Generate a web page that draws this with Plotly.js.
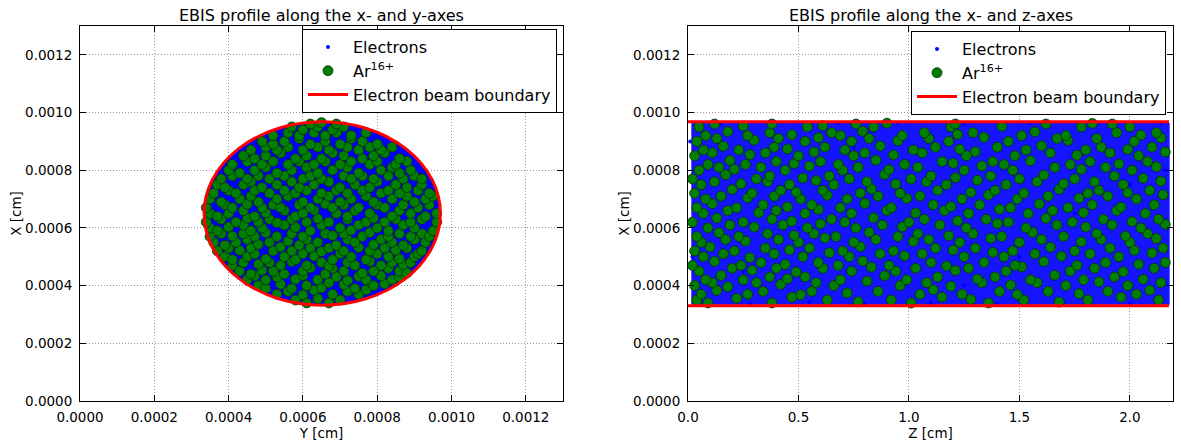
<!DOCTYPE html>
<html>
<head>
<meta charset="utf-8">
<script src="https://cdn.plot.ly/plotly-3.0.1.min.js"></script>
<style>html,body{margin:0;padding:0;background:#fff;}#chart{width:1181px;height:441px;}</style>
</head>
<body>
<div id="chart"></div>
<script>
// ---------- DATA ----------
// transverse units: 1e-5 cm ; longitudinal (Z) units: 0.01 cm
const UNIT_T = 1e-5;
const UNIT_Z = 0.01;

const panelTitles = ["EBIS profile along the x- and y-axes", "EBIS profile along the x- and z-axes"];
const seriesNames = ["Electrons", "Ar<sup>16+</sup>", "Electron beam boundary"];

// beam boundary (cm)
const beamCenterY = 0.000652;
const beamCenterX = 0.00065;
const beamRadius = 0.000318;
const beamXmin = 0.00033;
const beamXmax = 0.000968;
const beamZ = [0, 2.177];
// electron cloud extent along z (cm)
const electronZ = [0.015, 2.18];

// electrons, x-y view: [Y, X] in 1e-5 cm
const electronsXY = [[40,60],[45,70],[50,55],[55,80],[60,40],[65,65],[70,50],[75,85],[80,60],[85,72],[90,55],[47,45],[52,88],[58,66],[62,78],[68,38],[72,93],[78,47],[83,83],[88,64],[93,68],[36,64],[95,62],[64,96],[66,34],[43,52],[57,90],[74,40],[86,45],[49,76]];

// electrons, x-z view: [Z (0.01 cm), X (1e-5 cm)]
const electronsXZ = [[3,34],[15,96],[28,33.6],[40,96.4],[55,34.2],[68,96.2],[80,33.8],[95,96.5],[110,34],[125,96],[140,33.7],[155,96.3],[170,34.1],[185,96],[200,33.9],[214,96.2],[217,60],[2,50],[216,80],[1,90],[50,60],[100,70],[150,50],[200,75],[25,45],[75,88],[125,40],[175,65]];

// Ar16+ ions, x-y view: [Y, X] in 1e-5 cm
const ionsXY = [
[58,35],[61,34],[64,35.5],[67,34],[70,35],
[53,37],[56,38],[60,36.8],[63,38.4],[68,37],[72,38],[75,36.9],[77,38.5],
[48,40],[50,39],[54,40.5],[57,39],[61,40],[65,39.2],[67,41],[71,40.3],[74,39],[79,40],[82,40.6],
[45,42],[47,43.4],[50,42],[53,43],[58,42.2],[60,43.5],[64,42],[69,43],[72,41.8],[75,43.2],[77,42],[81,43.4],[84,42],[86,43],
[43,45],[46,44],[49,45.3],[52,45],[55,44],[60,45],[62,46.2],[66,44],[68,46],[71,45],[76,44.3],[79,45],[83,46],[86,45],[88,44.4],
[41,47],[44,48],[48,47.4],[51,48],[54,47],[57,48.3],[61,47],[65,48],[67,46.8],[72,48],[74,47],[78,48.4],[81,47],[84,48],[87,47.2],[89,48],
[39,50],[41,49],[45,50],[47,51],[50,49.2],[55,50],[58,49],[60,51],[63,50.2],[68,49],[70,51],[73,50],[77,49],[80,51],[83,50],[86,49.3],[90,50],[91,51],
[37,52],[40,53],[43,52.2],[46,53],[52,52],[54,53.4],[57,52],[62,53],[65,51.8],[67,53],[71,52],[75,53.2],[78,52],[82,53],[85,52.3],[88,53],[92,52],
[36,55],[39,54],[42,55],[45,56],[48,54.3],[51,55],[56,55.4],[59,54],[61,56],[64,55],[69,54],[72,56],[74,55],[79,54.2],[81,56],[84,55],[87,54],[90,56],[93,55],
[35,57],[38,58],[41,57.2],[44,58],[47,57],[50,58.3],[53,57],[57,58],[60,57],[66,58],[68,57.3],[71,58],[76,57],[78,58.4],[83,57],[86,58],[89,57],[92,58],[94,57],
[35,60],[37,59],[40,60.3],[44,61],[46,59],[49,60],[55,61],[58,60.2],[62,59],[65,61],[70,60],[73,59.2],[75,61],[80,60],[83,59],[87,61],[90,60],[95,59],
[34,62],[38,63],[42,62],[45,63.3],[48,62],[51,63],[53,61.8],[57,63],[61,62],[64,63.2],[67,62],[72,63],[77,62],[79,63.4],[82,62],[85,63],[89,62],[92,63],[96,62],
[35,65],[37,64],[40,65],[44,66],[47,64],[50,65.2],[55,66],[58,64],[60,65],[63,66.2],[69,65],[72,64],[74,66],[78,65],[84,64],[86,66],[89,65],[93,64],[96,65],
[34,67],[39,68],[41,67],[45,68.2],[49,67],[52,68],[54,67],[59,68],[62,67],[66,68.3],[68,67],[71,68],[75,67],[80,68],[82,67],[87,68],[91,67],[94,68],
[35,70],[38,69],[43,70],[46,71],[48,69],[53,70],[56,71],[60,69],[64,70],[67,71],[70,69],[73,70],[77,71],[79,69],[84,70],[88,71],[90,69],[93,70],[95,71],
[36,72],[40,73],[42,72],[47,73],[51,72],[55,73],[58,72],[61,73],[65,72],[69,73],[72,72],[76,73],[81,72],[83,73],[86,72],[91,73],[94,72],
[37,75],[39,74],[44,75],[46,76],[49,74],[53,75],[57,76],[59,74],[63,75],[67,76],[70,74],[74,75],[78,74],[80,76],[85,75],[88,74],[92,75],
[38,77],[41,78],[45,77],[48,78],[51,77],[55,78],[60,77],[62,78],[65,77],[71,78],[73,77],[76,78],[79,77],[83,78],[87,77],[90,78],[92,77],
[40,80],[43,79],[47,80],[50,81],[53,79],[57,80],[61,81],[64,79],[68,80],[72,81],[75,79],[81,80],[84,81],[86,79],[89,80],
[41,82],[45,83],[49,82],[52,83],[56,82],[59,83],[63,82],[66,83],[70,82],[73,83],[78,82],[80,83],[85,82],[88,83],
[44,85],[47,84],[50,85],[54,86],[58,84],[61,85],[65,84],[68,86],[71,85],[76,84],[79,85],[82,86],[86,84],
[46,87],[50,88],[53,87],[56,88],[60,87],[64,88],[67,87],[72,88],[75,87],[78,88],[81,87],[84,88],
[49,90],[52,89],[55,90],[59,91],[62,89],[66,90],[70,89],[73,91],[76,90],[80,89],
[52,92],[56,93],[59,92],[63,93],[66,92],[69,93],[73,92],[77,93],
[57,95],[60,94],[64,95],[68,94],[71,95],
[62,96],[65,96.5],[69,96]
];

// Ar16+ ions, x-z view: [Z (0.01 cm), X (1e-5 cm)]
const ionsXZ = [
[4,35],[9,34],[22,35.6],[38,34],[47,36],[63,35],[77,34.4],[92,35],[101,34],[115,36],[128,35.2],[136,34],[152,35],[168,34.3],[181,35],[196,36],[213,35],
[6,37],[13,38.3],[27,37],[34,38],[51,36.8],[56,38],[72,37.4],[86,38],[105,37],[111,38.6],[124,37],[141,38],[149,36.9],[163,38],[177,37.2],[190,38],[203,37],[209,38.4],
[3,40],[11,41],[18,39.6],[31,41],[42,40.4],[58,41],[66,40],[81,41.5],[96,40],[108,41],[119,39.8],[133,41],[146,40.2],[158,41],[171,40],[186,41.3],[199,40],[214,41],
[8,42],[15,43.5],[25,42],[37,43],[45,42.4],[53,43],[69,42],[89,43.4],[99,42],[113,43],[131,42.3],[139,43],[155,42],[166,43.6],[179,42],[193,43],[206,42.2],
[5,45],[20,46],[29,45.3],[40,46],[49,44.7],[61,46],[74,45],[83,46.4],[94,45],[103,46],[121,45.2],[127,46],[144,45],[151,46.5],[173,45],[184,46],[197,44.8],[211,46],
[2,47],[12,48.4],[24,47],[33,48],[44,47.3],[59,48],[68,47],[79,48.5],[91,47],[110,48],[117,46.8],[134,48],[148,47],[161,48.3],[176,47],[189,48],[204,47.4],[216,48],
[7,50],[16,51],[28,49.7],[39,51],[52,50],[64,51.4],[73,50],[87,51],[98,50.3],[106,51],[125,50],[138,51.5],[143,50],[157,51],[169,50.2],[182,51],[195,50],[210,51.3],
[3,52],[10,53.4],[21,52],[35,53],[46,52.4],[55,53],[70,52],[78,53.5],[93,52],[112,53],[120,52.3],[130,53],[147,52],[164,53.3],[175,52],[191,53],[202,52.2],[215,53],
[6,55],[17,56],[26,55.4],[41,56],[50,55],[62,56.5],[75,55],[85,56],[102,55.3],[109,56],[123,55],[137,56.4],[150,55],[160,56],[178,55.2],[187,56],[200,55],[212,56.3],
[4,57],[14,58.3],[23,57],[36,58],[48,57.4],[57,58],[67,57],[82,58.5],[95,57],[104,58],[118,57.3],[129,58],[142,57],[156,58.4],[170,57],[185,58],[198,57.2],[208,58],
[9,60],[19,61],[30,60.3],[43,61],[54,60],[60,61.4],[76,60],[88,61],[97,60.4],[114,61],[126,60],[140,61.5],[153,60],[167,61],[180,60.3],[192,61],[205,60],[216,61.2],
[2,62],[13,63.4],[25,62],[38,63],[47,62.3],[65,63],[71,62],[84,63.5],[100,62],[107,63],[122,62.4],[135,63],[145,62],[162,63.3],[174,62],[188,63],[201,62.2],[213,63],
[7,65],[18,66],[32,65.3],[40,66],[53,65],[59,66.4],[74,65],[90,66],[103,65.2],[116,66],[127,65],[141,66.5],[154,65],[165,66],[179,65.3],[194,66],[207,65],
[4,67],[11,68.4],[22,67],[34,68],[45,67.3],[56,68],[69,67],[80,68.5],[92,67],[111,68],[119,67.4],[132,68],[146,67],[159,68.3],[172,67],[183,68],[196,67.2],[211,68],
[8,70],[15,71],[27,70.4],[39,71],[51,70],[63,71.3],[72,70],[86,71],[99,70.2],[105,71],[124,70],[136,71.4],[149,70],[163,71],[177,70.3],[190,71],[203,70],[215,71.5],
[3,72],[20,73.3],[29,72],[42,73],[49,72.4],[61,73],[78,72],[83,73.5],[96,72],[113,73],[128,72.3],[139,73],[152,72],[168,73.4],[181,72],[186,73],[199,72.2],[209,73],
[6,75],[12,76],[24,75.3],[36,76],[46,75],[58,76.4],[66,75],[81,76],[94,75.2],[108,76],[117,75],[131,76.5],[144,75],[158,76],[170,75.3],[184,76],[197,75],[214,76.2],
[2,77],[17,78.4],[31,77],[37,78],[52,77.3],[64,78],[73,77],[89,78.5],[101,77],[110,78],[121,77.4],[137,78],[150,77],[161,78.3],[175,77],[193,78],[206,77.2],
[5,80],[14,81],[21,80.3],[33,81],[44,80],[55,81.4],[70,80],[77,81],[91,80.2],[104,81],[125,80],[133,81.5],[147,80],[166,81],[178,80.3],[189,81],[201,80],[212,81.2],
[9,82],[19,83.4],[26,82],[40,83],[48,82.3],[60,83],[68,82],[85,83.5],[98,82],[115,83],[120,82.4],[138,83],[143,82],[155,83.3],[173,82],[182,83],[195,82.2],[208,83],
[3,85],[11,86],[28,85.4],[35,86],[50,85],[57,86.3],[75,85],[80,86],[93,85.3],[106,86],[126,85],[130,86.4],[148,85],[164,86],[176,85.2],[191,86],[204,85],[216,86.3],
[7,87],[16,88.3],[23,87],[39,88],[45,87.4],[62,88],[71,87],[87,88.4],[102,87],[112,88],[123,87.3],[140,88],[153,87],[160,88.5],[180,87],[187,88],[199,87.2],[210,88],
[4,90],[13,91],[30,90.4],[41,91],[53,90],[59,91.3],[74,90],[82,91],[95,90.2],[109,91],[118,90],[134,91.4],[145,90],[167,91],[172,90.3],[185,91],[202,90],[214,91.2],
[8,92],[18,93.4],[27,92],[37,93],[47,92.3],[65,93],[69,92],[79,93.5],[97,92],[107,93],[122,92.4],[129,93],[151,92],[157,93.3],[171,92],[194,93],[205,92.2],[212,93],
[5,95],[12,96],[25,95.3],[38,96],[54,95],[61,95.4],[76,96],[84,95],[90,96.3],[119,95],[121,96],[142,95.2],[162,96],[178,95],[183,96.2],[192,96],[200,95]
];

// axis tick values
const transTicks = [0, 0.0002, 0.0004, 0.0006, 0.0008, 0.0010, 0.0012];
const zTicks = [0.0, 0.5, 1.0, 1.5, 2.0];

// ---------- STYLES ----------
const FONT = "DejaVu Sans, Bitstream Vera Sans, sans-serif";
const BLUE = "#0000ff", GREEN = "#007f00", RED = "#ff0000";

const W = 1181, H = 441;
const px = v => v / W, py = v => 1 - v / H;

const eXY = {y: electronsXY.map(p => p[0] * UNIT_T), x: electronsXY.map(p => p[1] * UNIT_T)};
const eXZ = {z: electronsXZ.map(p => p[0] * UNIT_Z), x: electronsXZ.map(p => p[1] * UNIT_T)};
const iXY = {y: ionsXY.map(p => p[0] * UNIT_T), x: ionsXY.map(p => p[1] * UNIT_T)};
const iXZ = {z: ionsXZ.map(p => p[0] * UNIT_Z), x: ionsXZ.map(p => p[1] * UNIT_T)};

const eMarker = {color: BLUE, size: 4, line: {width: 0}};
const iMarker = {color: GREEN, size: 10, line: {color: "#0b2f0b", width: 0.8}};

const traces = [
  {type: "scatter", mode: "markers", name: seriesNames[0], x: eXY.y, y: eXY.x, xaxis: "x", yaxis: "y", marker: eMarker, legend: "legend"},
  {type: "scatter", mode: "markers", name: seriesNames[1], x: iXY.y, y: iXY.x, xaxis: "x", yaxis: "y", marker: iMarker, legend: "legend"},
  {type: "scatter", mode: "lines", name: seriesNames[2], x: [null], y: [null], xaxis: "x", yaxis: "y", line: {color: RED, width: 3}, legend: "legend"},

  {type: "scatter", mode: "markers", name: seriesNames[0], x: eXZ.z, y: eXZ.x, xaxis: "x2", yaxis: "y2", marker: eMarker, legend: "legend2"},
  {type: "scatter", mode: "markers", name: seriesNames[1], x: iXZ.z, y: iXZ.x, xaxis: "x2", yaxis: "y2", marker: iMarker, legend: "legend2"},
  {type: "scatter", mode: "lines", name: seriesNames[2],
   x: [beamZ[0], beamZ[1], null, beamZ[0], beamZ[1]],
   y: [beamXmax, beamXmax, null, beamXmin, beamXmin],
   xaxis: "x2", yaxis: "y2", line: {color: RED, width: 3}, legend: "legend2"}
];

const axisCommon = {
  showline: true, linecolor: "#000", linewidth: 1, mirror: "ticks",
  ticks: "inside", ticklen: 6, tickcolor: "#000", tickwidth: 1,
  showgrid: true, gridcolor: "#9a9a9a", griddash: "1px,2px", gridwidth: 1,
  zeroline: false, tickfont: {family: FONT, size: 13.5, color: "#000"},
  ticklabelstandoff: 4, automargin: false
};
const titleFont = {family: FONT, size: 13.5, color: "#000"};

const legendCommon = {
  bgcolor: "#fff", bordercolor: "#000", borderwidth: 1,
  font: {family: FONT, size: 16, color: "#000"}, xanchor: "right", yanchor: "top",
  tracegroupgap: 0, itemwidth: 40
};

const layout = {
  width: W, height: H,
  margin: {l: 0, r: 0, t: 0, b: 0},
  paper_bgcolor: "#fff", plot_bgcolor: "#fff",
  showlegend: true,
  font: {family: FONT},
  xaxis: Object.assign({}, axisCommon, {domain: [px(80), px(563)], range: [0, 0.0013], tickvals: transTicks, tickformat: ".4f", anchor: "y",
    title: {text: "Y [cm]", font: titleFont, standoff: 0}}),
  yaxis: Object.assign({}, axisCommon, {domain: [py(401), py(26)], range: [0, 0.0013], tickvals: transTicks, tickformat: ".4f", anchor: "x",
    title: {text: "X [cm]", font: titleFont, standoff: 0}}),
  xaxis2: Object.assign({}, axisCommon, {domain: [px(688), px(1173)], range: [0, 2.195], tickvals: zTicks, tickformat: ".1f", anchor: "y2",
    title: {text: "Z [cm]", font: titleFont, standoff: 0}}),
  yaxis2: Object.assign({}, axisCommon, {domain: [py(401), py(26)], range: [0, 0.0013], tickvals: transTicks, tickformat: ".4f", anchor: "x2",
    title: {text: "X [cm]", font: titleFont, standoff: 0}}),
  legend: Object.assign({}, legendCommon, {x: px(557), y: py(29)}),
  legend2: Object.assign({}, legendCommon, {x: px(1166), y: py(31)}),
  shapes: [
    // electron cloud (dense electron markers) in x-y view
    {type: "circle", xref: "x", yref: "y", layer: "between",
     x0: beamCenterY - beamRadius, x1: beamCenterY + beamRadius,
     y0: beamCenterX - beamRadius, y1: beamCenterX + beamRadius,
     fillcolor: BLUE, line: {width: 0}},
    // electron cloud in x-z view
    {type: "rect", xref: "x2", yref: "y2", layer: "between",
     x0: electronZ[0], x1: electronZ[1], y0: beamXmin + 0.000004, y1: beamXmax - 0.000004,
     fillcolor: BLUE, opacity: 0.92, line: {width: 0}},
    // beam boundary circle
    {type: "circle", xref: "x", yref: "y", layer: "above",
     x0: beamCenterY - beamRadius, x1: beamCenterY + beamRadius,
     y0: beamCenterX - beamRadius, y1: beamCenterX + beamRadius,
     line: {color: RED, width: 3}}
  ],
  annotations: [
    {text: panelTitles[0], xref: "paper", yref: "paper", x: px(321.5), y: py(15), xanchor: "center", yanchor: "middle", showarrow: false,
     font: {family: FONT, size: 16, color: "#000"}},
    {text: panelTitles[1], xref: "paper", yref: "paper", x: px(930.5), y: py(16), xanchor: "center", yanchor: "middle", showarrow: false,
     font: {family: FONT, size: 16, color: "#000"}}
  ]
};

Plotly.newPlot("chart", traces, layout, {staticPlot: true, displayModeBar: false});
</script>
</body>
</html>
